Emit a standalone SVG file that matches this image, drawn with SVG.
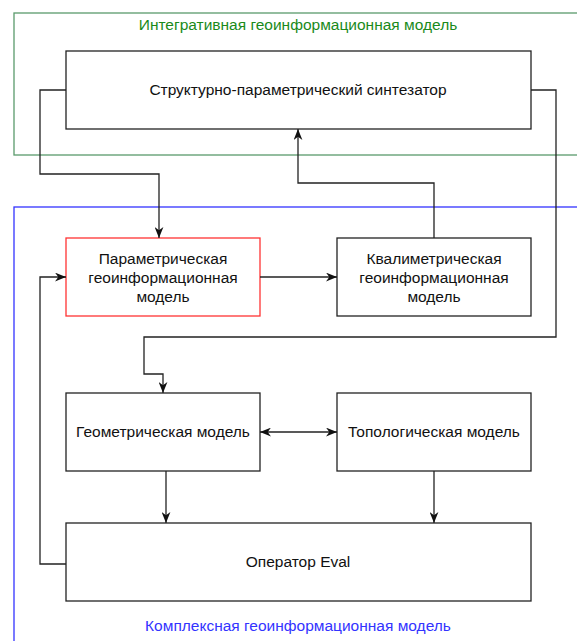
<svg xmlns="http://www.w3.org/2000/svg" width="577" height="641" viewBox="0 0 577 641">
<style>
.box{fill:#fff;stroke:#222;stroke-width:1.3}
.red{stroke:#ff3333}
.t{font-family:"Liberation Sans",Arial,sans-serif;font-size:15.5px;fill:#111;text-anchor:middle}
.c{fill:none;stroke:#222;stroke-width:1.3}
</style>
<defs>
<marker id="ar" viewBox="0 0 10 8" refX="10" refY="4" markerWidth="11" markerHeight="9" markerUnits="userSpaceOnUse" orient="auto-start-reverse">
<path d="M0,0 L10,4 L0,8 L3,4 Z" fill="#111"/>
</marker>
</defs>
<g id="integrative">
<rect x="14" y="13" width="600" height="142" fill="none" stroke="#5a9a6c" stroke-width="1.3"/>
<text class="t" x="298" y="30" style="fill:#1a8a1a">Интегративная геоинформационная модель</text>
</g>
<g id="complex">
<rect x="14" y="207" width="600" height="460" fill="none" stroke="#3333ff" stroke-width="1.3"/>
<text class="t" x="298" y="631" style="fill:#3333ff">Комплексная геоинформационная модель</text>
</g>
<g id="synth">
<rect class="box" x="66" y="51" width="465" height="78"/>
<text class="t" x="298" y="95">Структурно-параметрический синтезатор</text>
</g>
<g id="param">
<rect class="box red" x="66" y="238" width="194" height="78"/>
<text class="t" x="163" y="264">Параметрическая</text>
<text class="t" x="163" y="283">геоинформационная</text>
<text class="t" x="163" y="302">модель</text>
</g>
<g id="qual">
<rect class="box" x="337" y="238" width="194" height="78"/>
<text class="t" x="434" y="264">Квалиметрическая</text>
<text class="t" x="434" y="283">геоинформационная</text>
<text class="t" x="434" y="302">модель</text>
</g>
<g id="geom">
<rect class="box" x="66" y="393" width="194" height="78"/>
<text class="t" x="163" y="437">Геометрическая модель</text>
</g>
<g id="topo">
<rect class="box" x="337" y="393" width="194" height="78"/>
<text class="t" x="434" y="437">Топологическая модель</text>
</g>
<g id="eval">
<rect class="box" x="66" y="523" width="465" height="78"/>
<text class="t" x="298" y="567">Оператор Eval</text>
</g>
<g id="connectors">
<path class="c" d="M66,90 H40 V174 H159 V238" marker-end="url(#ar)"/>
<path class="c" d="M434,238 V183 H298 V129" marker-end="url(#ar)"/>
<path class="c" d="M531,90 H556 V337 H144 V374 H163 V393" marker-end="url(#ar)"/>
<path class="c" d="M260,277 H337" marker-end="url(#ar)"/>
<path class="c" d="M66,564 H40 V277 H66" marker-end="url(#ar)"/>
<path class="c" d="M260,432 H337" marker-start="url(#ar)" marker-end="url(#ar)"/>
<path class="c" d="M166,471 V523" marker-end="url(#ar)"/>
<path class="c" d="M434,471 V523" marker-end="url(#ar)"/>
</g>
</svg>
